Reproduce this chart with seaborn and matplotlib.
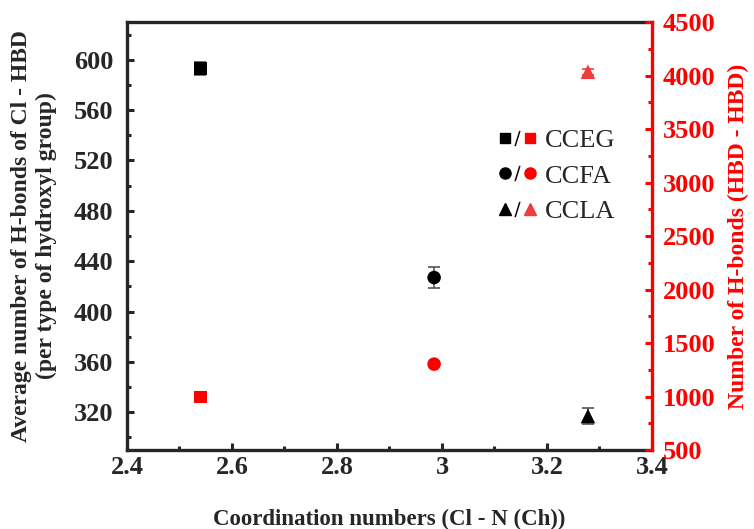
import numpy as np
import pandas as pd
import matplotlib
matplotlib.use("Agg")
import matplotlib.pyplot as plt
import seaborn as sns
from matplotlib.lines import Line2D
from matplotlib.legend_handler import HandlerTuple
from matplotlib.ticker import MultipleLocator, FuncFormatter

# ---- data ----
systems = ["CCEG", "CCFA", "CCLA"]
coord_numbers = [2.54, 2.985, 3.278]
hb_cl_hbd = [593, 427, 317]
hb_cl_hbd_err = [5, 8, 6]
hb_hbd_hbd = [995, 1303, 4035]
hb_hbd_hbd_err = [0, 0, 30]
markers = ["s", "o", "^"]
red_colors = ["#ff0000", "#ff0000", "#f03c3c"]

sns.set_style("ticks")
plt.rcParams["font.family"] = ["Liberation Serif", "DejaVu Serif"]

df = pd.DataFrame({"system": systems, "cn": coord_numbers,
                   "left": hb_cl_hbd, "right": hb_hbd_hbd})

fig = plt.figure(figsize=(7.54, 5.29), dpi=100)
ax = fig.add_axes([0.1684, 0.1493, 0.6963, 0.8091])
ax2 = ax.twinx()

RED = "#ff0000"
sizes = {"s": 85, "o": 95, "^": 110}
for i, s in enumerate(systems):
    sub = df[df.system == s]
    ax.errorbar(coord_numbers[i], hb_cl_hbd[i], yerr=hb_cl_hbd_err[i], fmt="none",
                ecolor="#555555", elinewidth=1.2, capsize=4, capthick=1.2, zorder=2)
    sns.scatterplot(data=sub, x="cn", y="left", marker=markers[i], color="black",
                    s=sizes[markers[i]], edgecolor="none", ax=ax, zorder=3, legend=False)
    if hb_hbd_hbd_err[i] > 0:
        ax2.errorbar(coord_numbers[i], hb_hbd_hbd[i], yerr=hb_hbd_hbd_err[i], fmt="none",
                     ecolor=red_colors[i], elinewidth=1.2, capsize=4, capthick=1.2, zorder=2)
    sns.scatterplot(data=sub, x="cn", y="right", marker=markers[i], color=red_colors[i],
                    s=sizes[markers[i]], edgecolor="none", ax=ax2, zorder=3, legend=False)

ax.set_xlim(2.4, 3.4)
ax.set_ylim(290, 630)
ax2.set_ylim(500, 4500)

ax.xaxis.set_major_locator(MultipleLocator(0.2))
ax.xaxis.set_minor_locator(MultipleLocator(0.1))
ax.xaxis.set_major_formatter(FuncFormatter(lambda v, p: f"{v:g}"))
ax.yaxis.set_major_locator(MultipleLocator(40))
ax.yaxis.set_minor_locator(MultipleLocator(20))
ax2.yaxis.set_major_locator(MultipleLocator(500))
ax2.yaxis.set_minor_locator(MultipleLocator(250))

for a in (ax, ax2):
    for sp in a.spines.values():
        sp.set_linewidth(2.4)
ax.spines["right"].set_visible(False)
ax2.spines["left"].set_visible(False)
ax2.spines["top"].set_visible(False)
ax2.spines["bottom"].set_visible(False)
ax2.spines["right"].set_color(RED)

ax.tick_params(axis="x", which="major", direction="in", length=5, width=2.2,
               labelsize=19, pad=4, top=False)
ax.tick_params(axis="y", which="major", direction="in", length=5, width=2.2,
               labelsize=19, pad=10)
ax.tick_params(axis="both", which="minor", direction="in", length=3, width=2.2, top=False)
ax2.tick_params(axis="y", which="major", direction="in", length=5, width=2.2,
                labelsize=19, colors=RED, pad=8)
ax2.tick_params(axis="y", which="minor", direction="in", length=3, width=2.2, colors=RED)
for lab in ax.get_xticklabels() + ax.get_yticklabels() + ax2.get_yticklabels():
    lab.set_fontweight("bold")

ax.set_xlabel("Coordination numbers (Cl - N (Ch))", fontsize=16.5, fontweight="bold", labelpad=22)
ax.set_ylabel("Average number of H-bonds of Cl - HBD\n(per type of hydroxyl group)",
              fontsize=17, fontweight="bold", labelpad=12, linespacing=1.25)
ax2.set_ylabel("Number of H-bonds (HBD - HBD)", fontsize=17, fontweight="bold",
               color=RED, labelpad=9)
ax2.set_xlabel("")

handles = []
for i, s in enumerate(systems):
    ms = 8 if markers[i] != "s" else 7.5
    h_black = Line2D([], [], marker=markers[i], color="black", linestyle="none", markersize=ms)
    h_slash = Line2D([], [], marker="$/$", color="black", linestyle="none", markersize=11,
                     markeredgewidth=0.0)
    h_red = Line2D([], [], marker=markers[i], color=red_colors[i], linestyle="none", markersize=ms)
    handles.append((h_black, h_slash, h_red))
leg = ax.legend(handles, systems, handler_map={tuple: HandlerTuple(ndivide=None, pad=0.0)},
                loc="upper left", bbox_to_anchor=(0.687, 0.775), frameon=False,
                fontsize=19, handlelength=1.45, handletextpad=0.3, labelspacing=0.45,
                borderaxespad=0)

fig.savefig("out.png", dpi=100)
